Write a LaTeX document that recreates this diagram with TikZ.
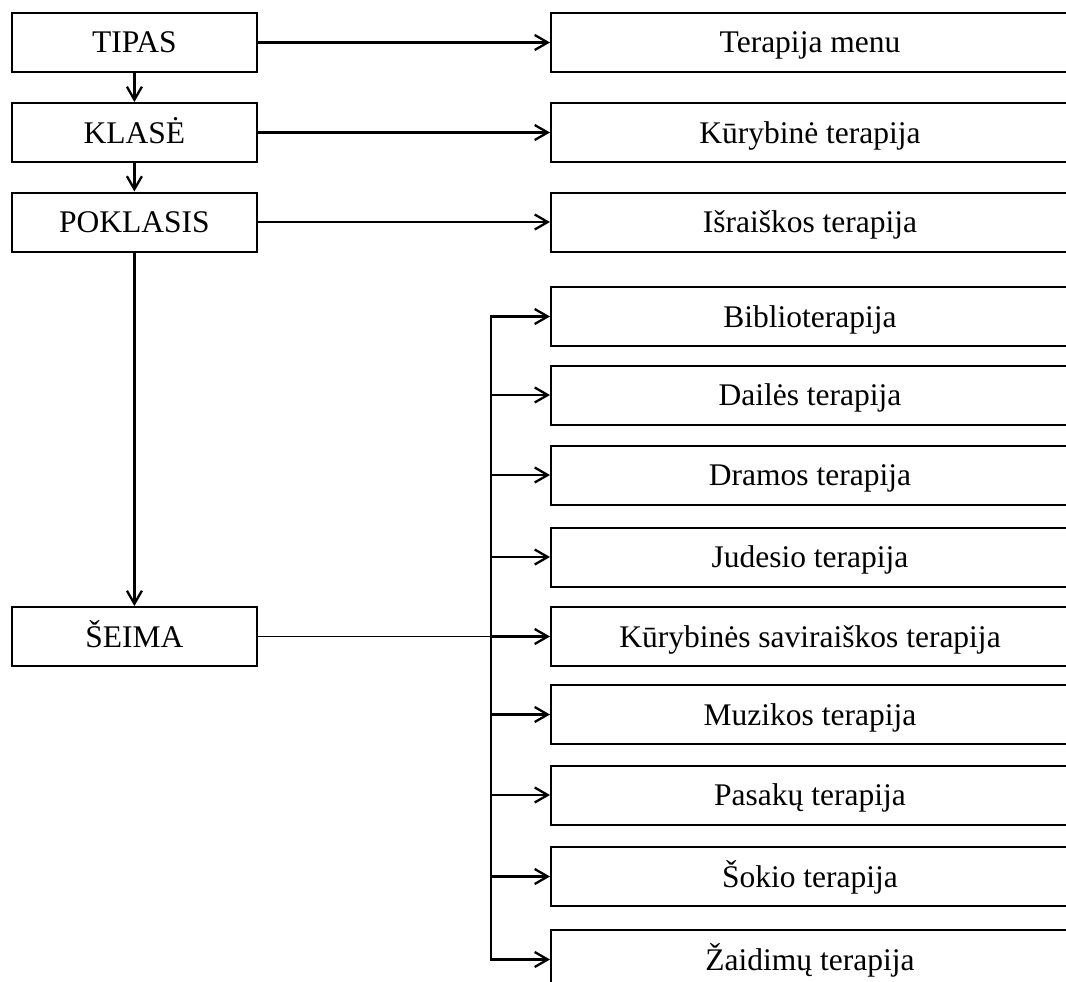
\documentclass[tikz,border=0pt]{standalone}
\usepackage{fontspec}
\setmainfont{Liberation Serif}
\usetikzlibrary{arrows.meta}
\newcommand\boxfnt{\fontsize{31.5pt}{36pt}\selectfont}
\tikzset{
  basebox/.style={draw, line width=2pt, minimum height=59pt, inner sep=0pt,
    text height=21pt, text depth=0pt, font=\boxfnt},
  leftbox/.style={basebox, minimum width=245pt},
  rightbox/.style={basebox, minimum width=518pt},
  conn/.style={line width=2.3pt, -{Straight Barb[length=13pt,width=15pt,line width=2.3pt]}},
  busline/.style={line width=2.3pt, line cap=rect},
  thinline/.style={line width=1.3pt},
}
\begin{document}
\begin{tikzpicture}[x=1pt,y=-1pt]
\useasboundingbox (0,0) rectangle (1066,982);
\clip (0,0) rectangle (1066,982);
\fill[white] (0,0) rectangle (1066,982);
% left column
\node[leftbox] (tipas)    at (134.4,42.5)  {TIPAS};
\node[leftbox] (klase)    at (134.4,132.5) {KLASĖ};
\node[leftbox] (poklasis) at (134.4,222)   {POKLASIS};
\node[leftbox] (seima)    at (134.4,636.5) {ŠEIMA};
% right column
\node[rightbox] (menu)    at (810,42.5)  {Terapija menu};
\node[rightbox] (kuryb)   at (810,132.5) {Kūrybinė terapija};
\node[rightbox] (israisk) at (810,222)   {Išraiškos terapija};
\node[rightbox] (biblio)  at (810,316.5) {Biblioterapija};
\node[rightbox] (dailes)  at (810,395)   {Dailės terapija};
\node[rightbox] (dramos)  at (810,475)   {Dramos terapija};
\node[rightbox] (judesio) at (810,557)   {Judesio terapija};
\node[rightbox] (ksav)    at (810,636.5) {Kūrybinės saviraiškos terapija};
\node[rightbox] (muzikos) at (810,714.5) {Muzikos terapija};
\node[rightbox] (pasaku)  at (810,795)   {Pasakų terapija};
\node[rightbox] (sokio)   at (810,876.5) {Šokio terapija};
\node[rightbox] (zaid)    at (810,959.5) {Žaidimų terapija};
% vertical chain
\draw[conn] (tipas) -- (klase);
\draw[conn] (klase) -- (poklasis);
\draw[conn] (poklasis) -- (seima);
% horizontal arrows
\draw[conn] (tipas) -- (menu);
\draw[conn] (klase) -- (kuryb);
\draw[conn] (poklasis) -- (israisk);
% bus
\coordinate (bx) at (491,0);
\draw[busline] (biblio.west -| bx) -- (zaid.west -| bx);
\draw[thinline] (seima.east) -- (ksav.west -| bx);
\foreach \t in {biblio,dailes,dramos,judesio,ksav,muzikos,pasaku,sokio,zaid}{
  \draw[conn] (\t.west -| bx) -- (\t.west);
}
\end{tikzpicture}
\end{document}
